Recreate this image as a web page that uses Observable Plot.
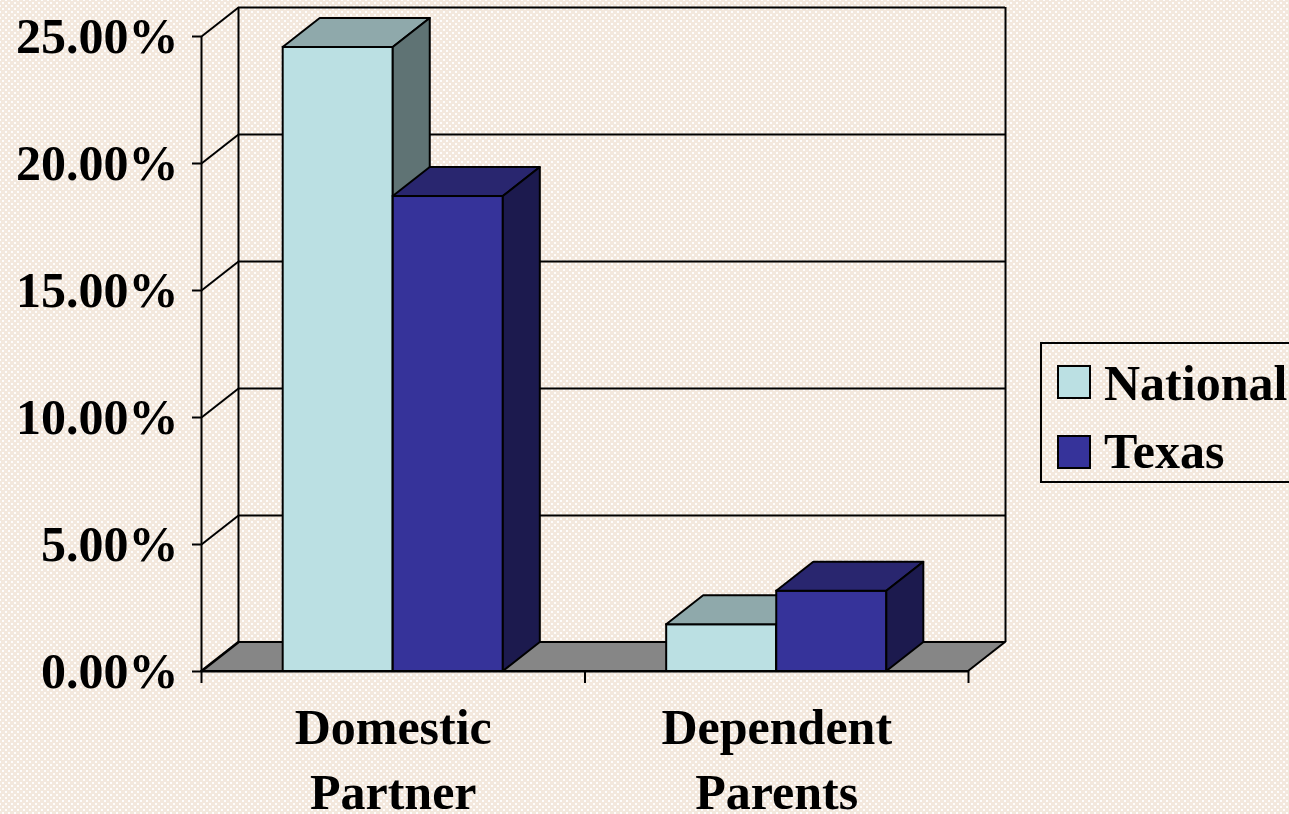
<!DOCTYPE html>
<html><head><meta charset="utf-8">
<script src="https://cdn.jsdelivr.net/npm/d3@7"></script>
<script src="https://cdn.jsdelivr.net/npm/@observablehq/plot@0.6"></script>
<style>
html,body{margin:0;padding:0;width:1289px;height:814px;overflow:hidden;}
body{background-color:#f3e8dd;
background-image:radial-gradient(circle, rgba(255,255,255,0.9) 0.8px, rgba(255,255,255,0) 1.5px),radial-gradient(circle, rgba(255,255,255,0.9) 0.8px, rgba(255,255,255,0) 1.5px);
background-size:6px 6px;background-position:0 0,3px 3px;
font-family:"Liberation Serif","Times New Roman",serif;}
#chart{position:absolute;left:0;top:0;}
#legend{position:absolute;left:1040px;top:342px;width:280px;height:141px;border:2px solid #000;box-sizing:border-box;}
.sw{position:absolute;left:15px;width:34px;height:34px;border:2px solid #000;box-sizing:border-box;}
.lt{position:absolute;left:62px;font-size:50px;font-weight:bold;line-height:50px;white-space:nowrap;color:#000;}
</style></head>
<body>
<div id="chart"></div>
<div id="legend"></div>
<script>
const categories = ["Domestic Partner", "Dependent Parents"];
const categoryLabels = ["Domestic\nPartner", "Dependent\nParents"];
const series = ["National", "Texas"];
const nationalValues = [24.57, 1.84];
const texasValues = [18.7, 3.16];
const yTicks = [0, 5, 10, 15, 20, 25];

const faceColors = {
  National: {front: "#bbe0e3", top: "#8fa9ab", side: "#5f7374"},
  Texas: {front: "#36339a", top: "#29266f", side: "#1c1a4e"}
};
const DX = 0.0965, DY = 1.14, BAR_W = 0.287, SW = 2;

const bars = [];
categories.forEach((c, i) => {
  series.forEach((s, j) => {
    const v = (s === "National" ? nationalValues : texasValues)[i];
    const xl = i + 0.5 + (j - 1) * BAR_W;
    bars.push({series: s, xl, xr: xl + BAR_W, v});
  });
});

const line = {stroke: "#000", strokeWidth: SW};

const walls = [
  Plot.ruleY(yTicks.slice(1), {y: d => d + DY, x1: DX, x2: 2 + DX, ...line}),
  Plot.ruleX([DX, 2 + DX], {x: d => d, y1: DY, y2: 25 + DY, ...line}),
  Plot.areaX([{y: 0, x1: 0, x2: 2}, {y: DY, x1: DX, x2: 2 + DX}],
    {y: "y", x1: "x1", x2: "x2", fill: "#868686", ...line}),
  Plot.link(yTicks, {x1: 0, y1: d => d, x2: DX, y2: d => d + DY, ...line}),
  Plot.ruleX([0], {y1: 0, y2: 25, ...line}),
  Plot.ruleY([0], {x1: 0, x2: 2, ...line})
];

const barMarks = bars.flatMap(b => {
  const c = faceColors[b.series];
  return [
    Plot.rect([b], {x1: "xl", x2: "xr", y1: 0, y2: "v", fill: c.front, ...line}),
    Plot.areaX([{y: b.v, x1: b.xl, x2: b.xr}, {y: b.v + DY, x1: b.xl + DX, x2: b.xr + DX}],
      {y: "y", x1: "x1", x2: "x2", fill: c.top, ...line}),
    Plot.areaY([{x: b.xr, y1: 0, y2: b.v}, {x: b.xr + DX, y1: DY, y2: b.v + DY}],
      {x: "x", y1: "y1", y2: "y2", fill: c.side, ...line})
  ];
});

const chart = Plot.plot({
  width: 1289, height: 814,
  marginLeft: 201, marginRight: 321, marginTop: 36, marginBottom: 143,
  x: {domain: [0, 2]},
  y: {domain: [0, 25]},
  style: {fontFamily: "'Liberation Serif', 'Times New Roman', serif", fontWeight: "bold", fontSize: "50px", background: "transparent", overflow: "visible", color: "#000"},
  marks: [
    ...walls,
    ...barMarks,
    Plot.axisY(yTicks, {tickSize: 9, tickPadding: 14, tickFormat: d => d.toFixed(2) + "%", label: null, strokeWidth: SW, fontSize: 50, fontVariant: "normal"}),
    Plot.axisX([0, 1, 2], {tickSize: 12, tickFormat: () => "", label: null, strokeWidth: SW}),
    Plot.text(categoryLabels, {x: (d, i) => i + 0.5, y: 0, text: d => d, lineAnchor: "top", dy: 26, lineHeight: 1.3, fontSize: 50, fontWeight: "bold", fill: "#000"})
  ]
});
document.getElementById("chart").appendChild(chart);

const legend = document.getElementById("legend");
series.forEach((s, i) => {
  const sw = document.createElement("div");
  sw.className = "sw";
  sw.style.top = (21 + i * 70) + "px";
  sw.style.background = faceColors[s].front;
  legend.appendChild(sw);
  const t = document.createElement("div");
  t.className = "lt";
  t.style.top = (14 + i * 68) + "px";
  t.textContent = s;
  legend.appendChild(t);
});
</script>
</body></html>
